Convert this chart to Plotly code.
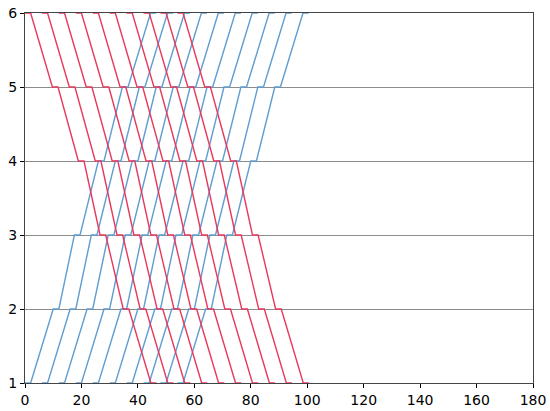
import plotly.graph_objects as go

# Timetable: ten trains each way, one every 6 minutes.
BLUE = "#5f9dd2"   # up trains, station 1 -> 6
RED = "#e8385e"    # down trains, station 6 -> 1
GRID = "#8c8c8c"

stations = [1, 2, 3, 4, 5, 6]
up_starts = [0, 6, 12, 18, 24, 30, 36, 42, 48, 54]
down_starts = [0, 6, 12, 18, 24, 30, 36, 42, 48, 54]
up_run = [8.0, 5.5, 6.5, 6.5, 8.0]      # minutes 1->2, 2->3, 3->4, 4->5, 5->6
down_run = [7.7, 7.2, 5.7, 6.2, 7.8]    # minutes 6->5, 5->4, 4->3, 3->2, 2->1
dwell = 2.0

x_ticks = [0, 20, 40, 60, 80, 100, 120, 140, 160, 180]


def train_path(start, stops, runs):
    xs, ys = [start], [stops[0]]
    t = start + dwell
    xs.append(t)
    ys.append(stops[0])
    for stop, run in zip(stops[1:], runs):
        t += run
        xs += [t, t + dwell]
        ys += [stop, stop]
        t += dwell
    return xs, ys


fig = go.Figure()
for s in up_starts:
    xs, ys = train_path(s, stations, up_run)
    fig.add_trace(go.Scatter(x=xs, y=ys, mode="lines", line=dict(color=BLUE, width=1.4),
                             hoverinfo="skip"))
for s in down_starts:
    xs, ys = train_path(s, stations[::-1], down_run)
    fig.add_trace(go.Scatter(x=xs, y=ys, mode="lines", line=dict(color=RED, width=1.4),
                             hoverinfo="skip"))

axis_font = dict(family="DejaVu Sans, sans-serif", size=14, color="#000")
fig.update_xaxes(range=[0, 180], tickvals=x_ticks, showgrid=False, zeroline=False,
                 showline=True, linecolor="#444", linewidth=1, mirror=True, automargin=False,
                 ticks="outside", ticklen=4, tickcolor="#000", tickfont=axis_font,
                 ticklabeloverflow="allow")
fig.update_yaxes(range=[1, 6], tickvals=stations, showgrid=True, gridcolor=GRID, gridwidth=1,
                 zeroline=False, showline=True, linecolor="#444", linewidth=1, mirror=True,
                 automargin=False, ticks="outside", ticklen=4, tickcolor="#000", tickfont=axis_font,
                 ticklabeloverflow="allow")
fig.update_layout(
    width=550, height=411,
    margin=dict(l=25, r=17, t=13, b=28),
    plot_bgcolor="white", paper_bgcolor="white",
    showlegend=False,
)
# drop the browser's default body margin so the figure fills the window
fig.write_html("out.html", config={"displayModeBar": False},
               post_script="document.body.style.margin='0';")
